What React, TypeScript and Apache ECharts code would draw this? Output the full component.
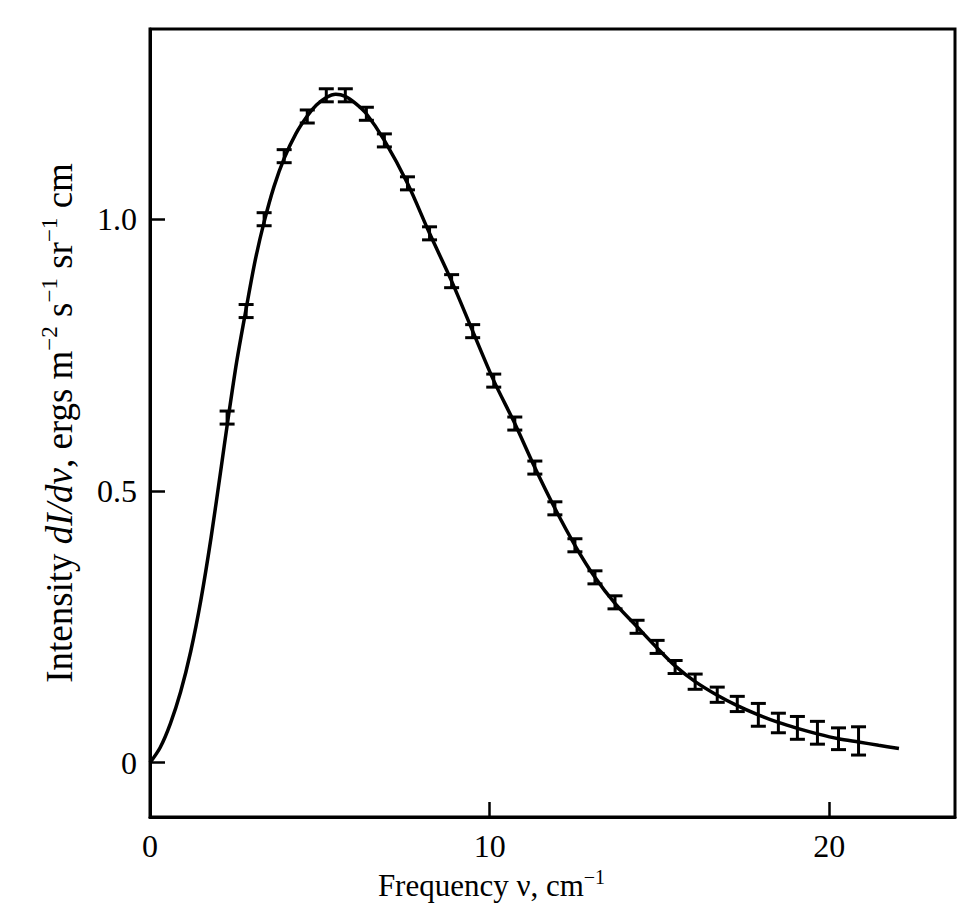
import React, { useEffect, useRef } from "react";
import * as echarts from "echarts";

// Measured error-bar points (frequency in cm^-1, intensity, half error)
const barNu = [2.27, 2.83, 3.36, 3.95, 4.63, 5.19, 5.75, 6.37, 6.9, 7.58, 8.23, 8.88, 9.5, 10.12, 10.74, 11.33, 11.92, 12.51, 13.1, 13.69, 14.34, 14.93, 15.46, 16.05, 16.7, 17.29, 17.91, 18.5, 19.06, 19.65, 20.27, 20.86];
const barVal = [0.635, 0.831, 1.0, 1.116, 1.189, 1.228, 1.228, 1.194, 1.145, 1.066, 0.974, 0.886, 0.794, 0.703, 0.624, 0.543, 0.468, 0.4, 0.341, 0.295, 0.25, 0.213, 0.176, 0.149, 0.125, 0.108, 0.088, 0.073, 0.064, 0.055, 0.044, 0.04];
const barErr = [0.012, 0.012, 0.012, 0.012, 0.012, 0.012, 0.012, 0.012, 0.012, 0.012, 0.012, 0.012, 0.012, 0.012, 0.012, 0.012, 0.012, 0.012, 0.012, 0.012, 0.012, 0.012, 0.012, 0.014, 0.014, 0.014, 0.021, 0.018, 0.021, 0.021, 0.02, 0.026];

// Fitted curve
const curveNu = [0, 0.3, 0.6, 0.9, 1.2, 1.5, 1.8, 2.1, 2.27, 2.55, 2.83, 3.1, 3.36, 3.65, 3.95, 4.3, 4.63, 4.9, 5.19, 5.47, 5.75, 6.05, 6.37, 6.9, 7.58, 8.23, 8.88, 9.5, 10.12, 10.74, 11.33, 11.92, 12.51, 13.1, 13.69, 14.34, 14.93, 15.46, 16.05, 16.7, 17.29, 17.91, 18.5, 19.06, 19.65, 20.27, 20.86, 21.45, 22.05];
const curveVal = [0, 0.028, 0.072, 0.13, 0.205, 0.3, 0.415, 0.545, 0.62, 0.737, 0.835, 0.925, 0.995, 1.06, 1.112, 1.158, 1.19, 1.21, 1.224, 1.23, 1.226, 1.213, 1.194, 1.145, 1.066, 0.974, 0.886, 0.794, 0.703, 0.624, 0.543, 0.468, 0.4, 0.341, 0.293, 0.25, 0.211, 0.178, 0.149, 0.124, 0.105, 0.088, 0.074, 0.063, 0.053, 0.044, 0.038, 0.032, 0.026];

const xLabels = [0, 10, 20];
const xTicks = [10, 20];
const yLabels = [0, 0.5, 1.0];

const SERIF = "'Liberation Serif', 'DejaVu Serif', serif";

export default function App() {
  const ref = useRef<HTMLDivElement>(null);
  useEffect(() => {
    if (!ref.current) return;
    const chart = echarts.init(ref.current, null, { renderer: "svg" });
    const errData = barNu.map((n, i) => [n, barVal[i] - barErr[i], barVal[i] + barErr[i]]);
    const curveData = curveNu.map((n, i) => [n, curveVal[i]]);
    chart.setOption({
      animation: false,
      backgroundColor: "#fff",
      grid: {
        left: 150,
        right: 13,
        top: 29,
        bottom: 90,
        show: true,
        borderColor: "#000",
        borderWidth: 3,
        backgroundColor: "#fff",
      },
      xAxis: {
        type: "value",
        min: 0,
        max: 23.7,
        name: "{a|Frequency ν, cm}{s|−1}",
        nameLocation: "middle",
        nameGap: 47,
        nameTextStyle: {
          padding: [0, 122, 0, 0],
          rich: {
            a: { fontFamily: SERIF, fontSize: 31, color: "#000", lineHeight: 34, verticalAlign: "bottom" },
            s: { fontFamily: SERIF, fontSize: 20, color: "#000", lineHeight: 34, verticalAlign: "top" },
          },
        },
        axisLine: { show: true, onZero: false, lineStyle: { color: "#000", width: 3 } },
        axisTick: { show: true, inside: true, length: 15, customValues: xTicks, lineStyle: { color: "#000", width: 2.5 } },
        axisLabel: {
          customValues: xLabels,
          margin: 13,
          fontFamily: SERIF,
          fontSize: 32,
          color: "#000",
          formatter: (v: number) => String(v),
        },
        splitLine: { show: false },
      },
      yAxis: {
        type: "value",
        min: -0.1,
        max: 1.35,
        name: "{a|Intensity }{i|dI/dν}{a|, ergs m}{s|−2}{a| s}{s|−1}{a| sr}{s|−1}{a| cm}",
        nameLocation: "middle",
        nameRotate: 90,
        nameGap: 72,
        nameTextStyle: {
          rich: {
            a: { fontFamily: SERIF, fontSize: 37, color: "#000", lineHeight: 40, verticalAlign: "bottom" },
            i: { fontFamily: SERIF, fontSize: 37, fontStyle: "italic", color: "#000", lineHeight: 40, verticalAlign: "bottom" },
            s: { fontFamily: SERIF, fontSize: 23, color: "#000", lineHeight: 40, verticalAlign: "top" },
          },
        },
        axisLine: { show: true, lineStyle: { color: "#000", width: 3 } },
        axisTick: { show: true, inside: true, length: 15, customValues: yLabels, lineStyle: { color: "#000", width: 2.5 } },
        axisLabel: {
          customValues: yLabels,
          margin: 13,
          fontFamily: SERIF,
          fontSize: 32,
          color: "#000",
          formatter: (v: number) => (v === 0 ? "0" : v.toFixed(1)),
        },
        splitLine: { show: false },
      },
      series: [
        {
          type: "line",
          data: curveData,
          symbol: "none",
          smooth: 0.3,
          lineStyle: { color: "#000", width: 3.5 },
          z: 2,
        },
        {
          type: "custom",
          data: errData,
          encode: { x: 0, y: [1, 2] },
          z: 3,
          renderItem: (params: any, api: any) => {
            const x = api.value(0);
            const lo = api.coord([x, api.value(1)]);
            const hi = api.coord([x, api.value(2)]);
            const hw = 7.5;
            const st = { stroke: "#000", lineWidth: 3 };
            return {
              type: "group",
              children: [
                { type: "line", shape: { x1: lo[0], y1: lo[1], x2: hi[0], y2: hi[1] }, style: st },
                { type: "line", shape: { x1: lo[0] - hw, y1: lo[1], x2: lo[0] + hw, y2: lo[1] }, style: st },
                { type: "line", shape: { x1: hi[0] - hw, y1: hi[1], x2: hi[0] + hw, y2: hi[1] }, style: st },
              ],
            };
          },
        },
      ],
    });
    return () => chart.dispose();
  }, []);
  return (
    <div
      ref={ref}
      style={{ position: "fixed", left: 0, top: 0, width: 968, height: 907, background: "#fff" }}
    />
  );
}
